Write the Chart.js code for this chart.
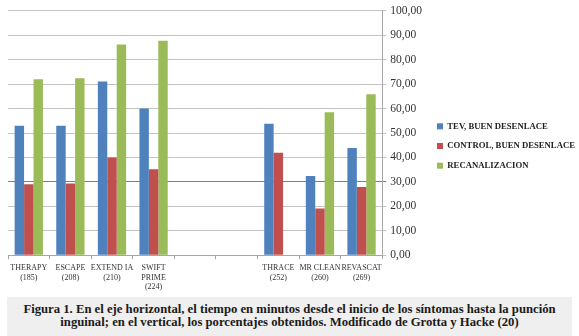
<!DOCTYPE html>
<html>
<head>
<meta charset="utf-8">
<script src="https://cdn.jsdelivr.net/npm/chart.js@4.4.0/dist/chart.umd.min.js"></script>
<style>
  body { margin: 0; background: #fff; width: 579px; height: 336px; overflow: hidden; }
  #wrap { position: relative; width: 579px; height: 296px; }
  #caption {
    position: absolute; left: 7px; top: 297px; width: 565px; height: 39px;
    background: #efefef; color: #1a1a1a;
    font-family: "Liberation Serif", serif; font-weight: bold; font-size: 12.7px;
    line-height: 13px; text-align: center; padding-top: 6px; box-sizing: border-box;
  }
</style>
</head>
<body>
<div id="wrap"><canvas id="chart" width="579" height="296"></canvas></div>
<div id="caption">Figura 1. En el eje horizontal, el tiempo en minutos desde el inicio de los síntomas hasta la punción<br>inguinal; en el vertical, los porcentajes obtenidos. Modificado de Grotta y Hacke (20)</div>
<script>
// categories (trial name + time in minutes), two empty slots in between
const trials = [
    ['THERAPY', '(185)'],
    ['ESCAPE', '(208)'],
    ['EXTEND IA', '(210)'],
    ['SWIFT', 'PRIME', '(224)'],
    '',
    '',
    ['THRACE', '(252)'],
    ['MR CLEAN', '(260)'],
    ['REVASCAT', '(269)']
];

const tevBuenDesenlace = [53, 53, 71.1, 60, null, null, 53.8, 32.4, 43.9];
const controlBuenDesenlace = [29, 29.3, 40, 35.2, null, null, 41.9, 19.1, 27.9];
const recanalizacion = [72, 72.4, 86.2, 87.8, null, null, null, 58.5, 65.9];

const serifFont = '"Liberation Serif", "DejaVu Serif", serif';

// nudge the legend a little above the vertical centre, like the original
const legendShift = {
    id: 'legendShift',
    afterLayout(chart) {
        chart.legend.top -= 6;
        chart.legend.bottom -= 6;
    }
};

const ctx = document.getElementById('chart').getContext('2d');
new Chart(ctx, {
    type: 'bar',
    data: {
        labels: trials,
        datasets: [{
            label: 'TEV, BUEN DESENLACE',
            data: tevBuenDesenlace,
            backgroundColor: '#4f81bd'
        }, {
            label: 'CONTROL, BUEN DESENLACE',
            data: controlBuenDesenlace,
            backgroundColor: '#c0504d'
        }, {
            label: 'RECANALIZACION',
            data: recanalizacion,
            backgroundColor: '#9bbb59'
        }]
    },
    options: {
        responsive: false,
        animation: false,
        layout: {
            padding: { left: 8, top: 8, right: -6, bottom: 0 }
        },
        datasets: {
            bar: {
                categoryPercentage: 0.68,
                barPercentage: 1
            }
        },
        plugins: {
            tooltip: { enabled: false },
            legend: {
                position: 'right',
                maxWidth: 220,
                labels: {
                    boxWidth: 6,
                    boxHeight: 6,
                    padding: 11,
                    color: '#222',
                    font: { family: serifFont, size: 8.7, weight: 'bold' }
                }
            }
        },
        scales: {
            x: {
                grid: {
                    drawOnChartArea: false,
                    tickLength: 4,
                    color: '#a6a6a6'
                },
                border: { color: '#a6a6a6' },
                ticks: {
                    autoSkip: false,
                    maxRotation: 0,
                    padding: 4,
                    color: '#333',
                    font: { family: serifFont, size: 8 }
                }
            },
            y: {
                position: 'right',
                min: 0,
                max: 100,
                grid: {
                    tickLength: 4,
                    color: c => (c.tick && c.tick.value === 30) ? '#808080' : '#c4c4c4'
                },
                border: { color: '#a6a6a6' },
                ticks: {
                    stepSize: 10,
                    padding: 4,
                    color: '#333',
                    font: { family: serifFont, size: 11.5 },
                    callback: v => v.toFixed(2).replace('.', ',')
                }
            }
        }
    },
    plugins: [legendShift]
});
</script>
</body>
</html>
